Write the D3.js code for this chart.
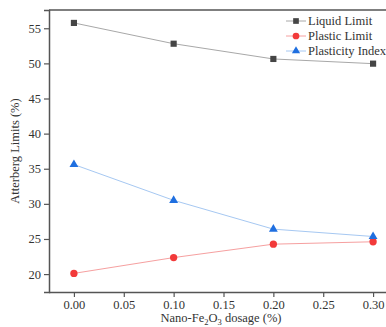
<!DOCTYPE html>
<html>
<head>
<meta charset="utf-8">
<script src="https://d3js.org/d3.v7.min.js"></script>
<style>
  body { margin: 0; background: #fff; }
  svg { display: block; }
  text { font-family: "Liberation Serif", "Times New Roman", serif; }
</style>
</head>
<body>
<script>
// data
const dosage = [0.00, 0.10, 0.20, 0.30];
const liquidLimit = [55.76, 52.8, 50.63, 49.96];
const plasticLimit = [20.1, 22.35, 24.26, 24.6];
const plasticityIndex = [35.6, 30.5, 26.4, 25.35];
const xTicks = [0.00, 0.05, 0.10, 0.15, 0.20, 0.25, 0.30];
const yTicks = [20, 25, 30, 35, 40, 45, 50, 55];
const seriesNames = ["Liquid Limit", "Plastic Limit", "Plasticity Index"];

let width = 386, height = 327;
let mLeft = 49, mTop = 10, mBottom = 292, mRight = 398;
let serif = "'Liberation Serif', 'Times New Roman', serif";

let svg = d3.select("body").append("svg")
    .attr("width", width)
    .attr("height", height)
    .attr("font-family", serif);

let x = d3.scaleLinear().domain([-0.025, 0.325]).range([mLeft, mRight]);
let y = d3.scaleLinear().domain([17.45, 57.6]).range([mBottom, mTop]);

let series = [
  {name: seriesNames[0], values: liquidLimit, line: "#a8a8a8", fill: "#454545", shape: d3.symbolSquare, size: 38},
  {name: seriesNames[1], values: plasticLimit, line: "#f6a0a0", fill: "#f23a3a", shape: d3.symbolCircle, size: 42},
  {name: seriesNames[2], values: plasticityIndex, line: "#a6c8f2", fill: "#1f6fe0", shape: d3.symbolTriangle, size: 34}
];

// frame (top edge, right edge is cut off)
svg.append("line")
    .attr("x1", mLeft).attr("x2", width)
    .attr("y1", mTop).attr("y2", mTop)
    .attr("stroke", "#555").attr("stroke-width", 1.5);

// axes
let gx = svg.append("g")
    .attr("transform", `translate(0,${mBottom})`)
    .call(d3.axisBottom(x).tickValues(xTicks).tickFormat(d3.format(".2f")).tickSize(5).tickPadding(3));
let gy = svg.append("g")
    .attr("transform", `translate(${mLeft},0)`)
    .call(d3.axisLeft(y).tickValues(yTicks).tickFormat(d3.format("d")).tickSize(5).tickPadding(3));

[gx, gy].forEach(g => {
  g.attr("font-family", serif).attr("font-size", 12.5);
  g.select(".domain").attr("stroke", "#555").attr("stroke-width", 1.5);
  g.selectAll(".tick line").attr("stroke", "#555").attr("stroke-width", 1.2);
  g.selectAll(".tick text").attr("fill", "#333");
});
gx.select(".domain").attr("d", `M${mLeft},0.5H${width}`);

// axis titles
svg.append("text")
    .attr("transform", `translate(19,${(mTop + mBottom) / 2}) rotate(-90)`)
    .attr("text-anchor", "middle")
    .attr("fill", "#333")
    .attr("font-size", 12.5)
    .text("Atterberg Limits (%)");

let xt = svg.append("text")
    .attr("x", 221).attr("y", 322)
    .attr("text-anchor", "middle")
    .attr("fill", "#333")
    .attr("font-size", 12.5);
xt.append("tspan").text("Nano-Fe");
xt.append("tspan").attr("dy", 3).attr("font-size", 8.5).text("2");
xt.append("tspan").attr("dy", -3).text("O");
xt.append("tspan").attr("dy", 3).attr("font-size", 8.5).text("3");
xt.append("tspan").attr("dy", -3).text(" dosage (%)");

// lines and markers
let line = d3.line().x((d, i) => x(dosage[i])).y(d => y(d));

series.forEach(s => {
  svg.append("path")
      .attr("d", line(s.values))
      .attr("fill", "none")
      .attr("stroke", s.line)
      .attr("stroke-width", 1);
  svg.selectAll(null)
      .data(s.values)
      .join("path")
      .attr("transform", (d, i) => `translate(${x(dosage[i])},${y(d)})`)
      .attr("d", d3.symbol().type(s.shape).size(s.size))
      .attr("fill", s.fill);
});

// legend
let legend = svg.append("g").attr("transform", "translate(286,21)");
series.forEach((s, i) => {
  let g = legend.append("g").attr("transform", `translate(0,${i * 15})`);
  g.append("line").attr("x1", 0).attr("x2", 20).attr("stroke", s.line).attr("stroke-width", 1);
  g.append("path").attr("transform", "translate(10,0)")
      .attr("d", d3.symbol().type(s.shape).size(s.size * 0.85))
      .attr("fill", s.fill);
  g.append("text").attr("x", 22).attr("dy", "0.35em")
      .attr("fill", "#333")
      .attr("font-size", 12.5)
      .text(s.name);
});
</script>
</body>
</html>
